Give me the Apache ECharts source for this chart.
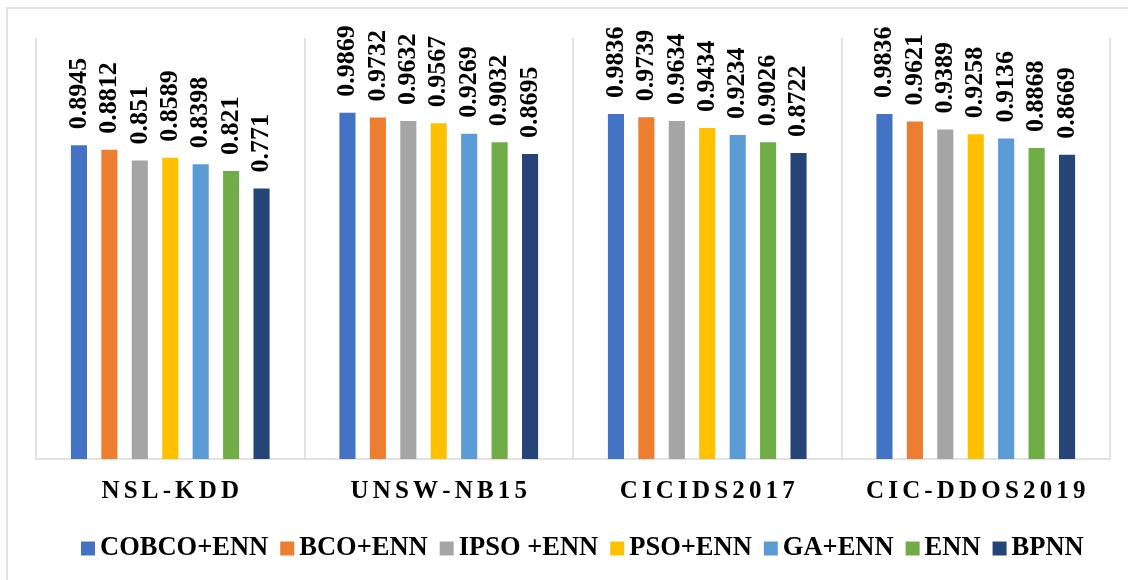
<!DOCTYPE html>
<html>
<head>
<meta charset="utf-8">
<script src="https://cdn.jsdelivr.net/npm/echarts@6/dist/echarts.min.js"></script>
<style>
  html, body { margin: 0; padding: 0; background: #fff; }
  #chart { width: 1128px; height: 580px; }
</style>
</head>
<body>
<div id="chart"></div>
<script>
// Datasets on the x axis
const datasets = ['NSL-KDD', 'UNSW-NB15', 'CICIDS2017', 'CIC-DDOS2019'];

// Accuracy of each model per dataset
const cobcoEnn = [0.8945, 0.9869, 0.9836, 0.9836];
const bcoEnn   = [0.8812, 0.9732, 0.9739, 0.9621];
const ipsoEnn  = [0.851,  0.9632, 0.9634, 0.9389];
const psoEnn   = [0.8589, 0.9567, 0.9434, 0.9258];
const gaEnn    = [0.8398, 0.9269, 0.9234, 0.9136];
const enn      = [0.821,  0.9032, 0.9026, 0.8868];
const bpnn     = [0.771,  0.8695, 0.8722, 0.8669];

const seriesDefs = [
  { name: 'COBCO+ENN', data: cobcoEnn, color: '#4472C4' },
  { name: 'BCO+ENN',   data: bcoEnn,   color: '#ED7D31' },
  { name: 'IPSO +ENN', data: ipsoEnn,  color: '#A5A5A5' },
  { name: 'PSO+ENN',   data: psoEnn,   color: '#FFC000' },
  { name: 'GA+ENN',    data: gaEnn,    color: '#5B9BD5' },
  { name: 'ENN',       data: enn,      color: '#70AD47' },
  { name: 'BPNN',      data: bpnn,     color: '#264478' }
];

const serif = '"Liberation Serif", "Times New Roman", serif';
const gridGray = '#d9d9d9';

const chart = echarts.init(document.getElementById('chart'), null, { renderer: 'canvas' });

chart.setOption({
  animation: false,
  backgroundColor: '#fff',
  graphic: [{
    type: 'rect',
    shape: { x: 7, y: 8, width: 1300, height: 1000 },
    style: { fill: 'none', stroke: gridGray, lineWidth: 1.5 },
    silent: true,
    z: -1
  }],
  grid: { left: 36, right: 18, top: 38, bottom: 121 },
  legend: {
    left: 76,
    top: 530,
    icon: 'rect',
    itemWidth: 14,
    itemHeight: 14,
    itemGap: 12,
    textStyle: { fontFamily: serif, fontWeight: 'bold', fontSize: 26.5, color: '#000' },
    data: seriesDefs.map(s => s.name)
  },
  xAxis: {
    type: 'category',
    data: datasets,
    axisLine: { show: true, lineStyle: { color: gridGray, width: 1.5 } },
    axisTick: { show: false },
    splitLine: { show: true, interval: 0, lineStyle: { color: gridGray, width: 1.5 } },
    axisLabel: {
      interval: 0,
      margin: 20,
      fontFamily: serif,
      fontWeight: 'bold',
      fontSize: 25,
      color: '#000',
      // letter-spaced dataset names
      formatter: v => v.split('').join('\u2006')
    }
  },
  yAxis: {
    type: 'value',
    min: 0,
    max: 1.2,
    show: false,
    splitLine: { show: false }
  },
  series: seriesDefs.map(s => ({
    name: s.name,
    type: 'bar',
    data: s.data,
    barGap: '89%',
    barCategoryGap: '26%',
    itemStyle: { color: s.color },
    label: {
      show: true,
      position: 'top',
      rotate: 90,
      align: 'left',
      verticalAlign: 'middle',
      distance: 16,
      fontFamily: serif,
      fontWeight: 'bold',
      fontSize: 26,
      color: '#000',
      formatter: p => String(p.value)
    }
  }))
});
</script>
</body>
</html>
